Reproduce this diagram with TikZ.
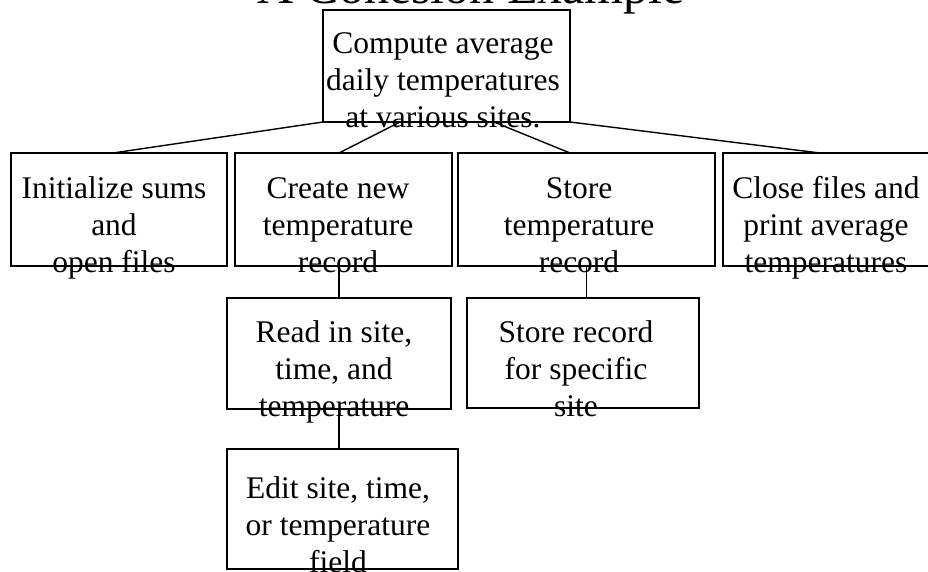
\documentclass[tikz,border=0pt]{standalone}
\usepackage{fontspec}
\setmainfont{Liberation Serif}
\usetikzlibrary{calc}
\tikzset{
  box/.style={draw, line width=1.5pt, inner sep=0pt, outer sep=0pt, anchor=north west},
  lbl/.style={inner sep=0pt, outer sep=0pt, anchor=base, font=\fontsize{31.5}{37}\selectfont},
  conn/.style={line width=1.4pt}
}
\newcommand{\lines}[1]{\begin{tabular}[t]{@{}c@{}}#1\end{tabular}}
\begin{document}
\begin{tikzpicture}[x=1pt,y=-1pt]
\useasboundingbox (0,0) rectangle (928,572);
% title (mostly cut off at the top)
\node[inner sep=0pt, anchor=base, font=\fontsize{50}{60}\selectfont] (title) at (471,4) {A Cohesion Example};
% boxes
\node[box, minimum width=247pt, minimum height=112pt] (b0) at (323,10) {};
\node[box, minimum width=216pt, minimum height=113pt] (b1) at (11,153) {};
\node[box, minimum width=217pt, minimum height=113pt] (b2) at (235,153) {};
\node[box, minimum width=257pt, minimum height=113pt] (b3) at (458,153) {};
\node[box, minimum width=207pt, minimum height=113pt] (b4) at (723,153) {};
\node[box, minimum width=224pt, minimum height=111pt] (b5) at (227,298) {};
\node[box, minimum width=232pt, minimum height=110pt] (b6) at (467,298) {};
\node[box, minimum width=231pt, minimum height=120pt] (b7) at (227,449) {};
% connectors
\draw[conn] (b0.south west) -- ($(b1.north)+(-6,0)$);
\draw[conn] ($(b0.south west)+(77,0)$) -- ($(b2.north)+(-4.5,0)$);
\draw[conn] ($(b0.south west)+(171,0)$) -- ($(b3.north)+(-16.5,0)$);
\draw[conn] (b0.south east) -- ($(b4.north)+(-6.5,0)$);
\draw[conn] (b5.north) -- (b5.north |- b2.south);
\draw[conn] (b3.south) -- (b3.south |- b6.north);
\draw[conn] (b5.south) -- (b5.south |- b7.north);
% texts
\node[lbl] (t0) at (443,54) {\lines{Compute average\\daily temperatures\\at various sites.}};
\node[lbl] (t1) at (114,198) {\lines{Initialize sums\\and\\open files}};
\node[lbl] (t2) at (338,198) {\lines{Create new\\temperature\\record}};
\node[lbl] (t3) at (579,198) {\lines{Store\\temperature\\record}};
\node[lbl] (t4) at (826,198) {\lines{Close files and\\print average\\temperatures}};
\node[lbl] (t5) at (334,342) {\lines{Read in site,\\time, and\\temperature}};
\node[lbl] (t6) at (576,342) {\lines{Store record\\for specific\\site}};
\node[lbl] (t7) at (338,498) {\lines{Edit site, time,\\or temperature\\field}};
\end{tikzpicture}
\end{document}
